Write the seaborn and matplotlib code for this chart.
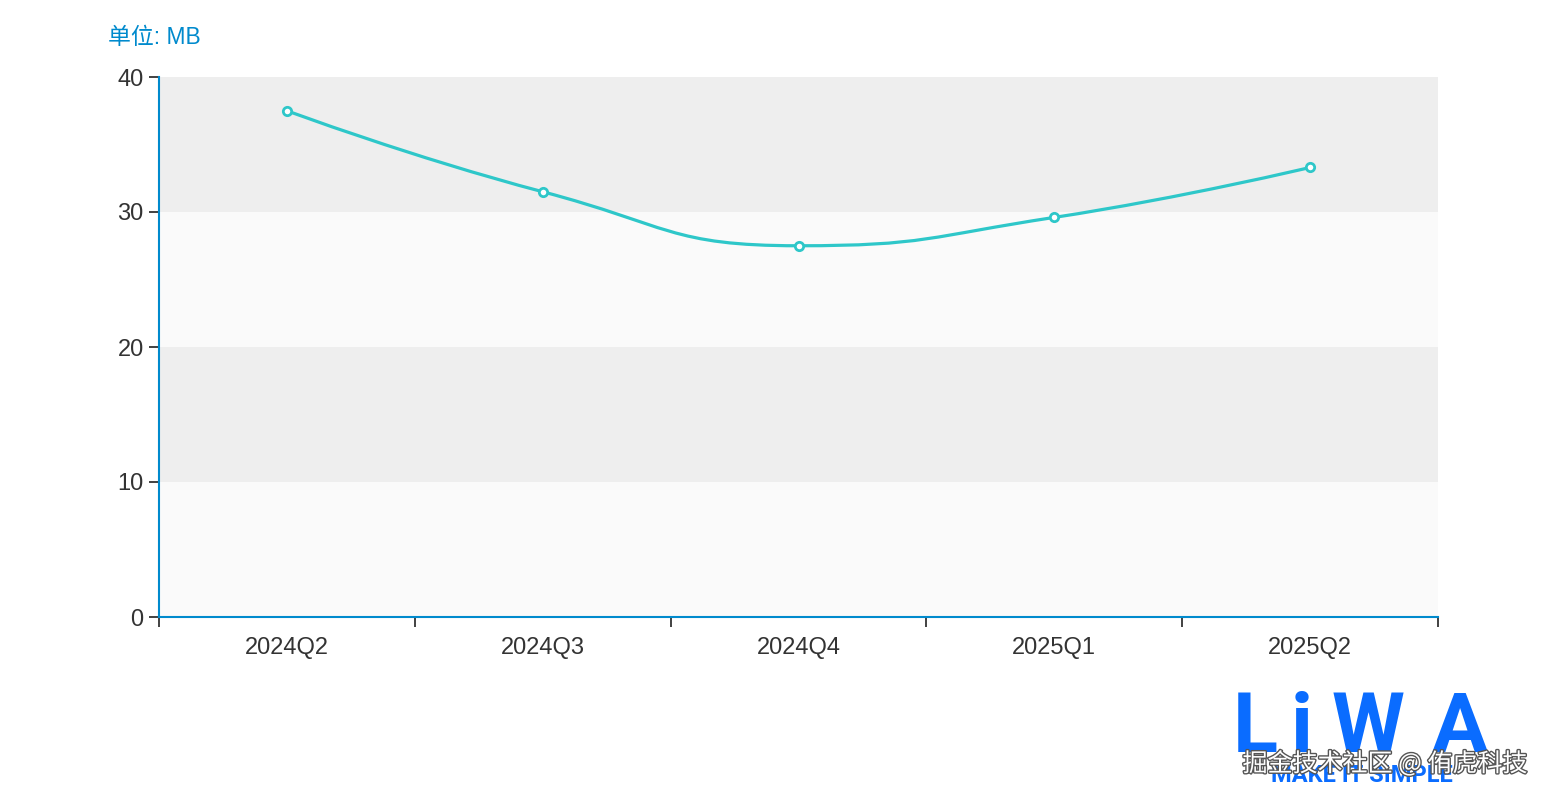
import numpy as np
import pandas as pd
import matplotlib
matplotlib.use('Agg')
import matplotlib.pyplot as plt
import matplotlib.patheffects as pe
from matplotlib.path import Path
from matplotlib.patches import PathPatch
import seaborn as sns

# data
quarters = ['2024Q2', '2024Q3', '2024Q4', '2025Q1', '2025Q2']
size_mb = [37.5, 31.5, 27.5, 29.6, 33.3]
y_ticks = [0, 10, 20, 30, 40]

sns.set_style('white')
plt.rcParams['font.family'] = ['Liberation Sans', 'Noto Sans CJK SC', 'DejaVu Sans']

line_color = '#2ec7c9'
axis_color = '#008acd'
text_color = '#333333'

df = pd.DataFrame({'quarter': quarters, 'size': size_mb})
df['pos'] = np.arange(len(df))

fig = plt.figure(figsize=(15.5, 8), dpi=100)
ax = fig.add_axes([159 / 1550, 183 / 800, 1279 / 1550, 540 / 800])
ax.set_xlim(-0.5, len(quarters) - 0.5)
ax.set_ylim(0, 40)

# alternating split areas
for i in range(len(y_ticks) - 1):
    ax.axhspan(y_ticks[i], y_ticks[i + 1], color='#fafafa' if i % 2 == 0 else '#eeeeee',
               lw=0, zorder=0)


def smooth_path(pts, smooth=0.5):
    # bezier control points the way echarts builds a smooth line (with constraint)
    n = len(pts)
    verts, codes = [pts[0]], [Path.MOVETO]
    cp0 = pts[0].copy()
    for i in range(n - 1):
        px, py = pts[i]
        cx, cy = pts[i + 1]
        qx, qy = pts[i + 2] if i + 2 < n else pts[i + 1]
        dx, dy = qx - px, qy - py
        len_prev = np.hypot(cx - px, cy - py)
        len_next = np.hypot(qx - cx, qy - cy)
        if i + 2 < n and len_next > 0:
            ratio = len_next / (len_next + len_prev)
            ncx = cx + dx * smooth * ratio
            ncy = cy + dy * smooth * ratio
            ncx = min(max(ncx, min(qx, cx)), max(qx, cx))
            ncy = min(max(ncy, min(qy, cy)), max(qy, cy))
            ddx, ddy = ncx - cx, ncy - cy
            c1x = cx - ddx * len_prev / len_next
            c1y = cy - ddy * len_prev / len_next
            c1x = min(max(c1x, min(px, cx)), max(px, cx))
            c1y = min(max(c1y, min(py, cy)), max(py, cy))
            ddx, ddy = cx - c1x, cy - c1y
            next_cp0 = np.array([cx + ddx * len_next / len_prev, cy + ddy * len_next / len_prev])
            cp1 = np.array([c1x, c1y])
        else:
            cp1 = pts[i + 1].copy()
            next_cp0 = pts[i + 1].copy()
        verts += [cp0, cp1, pts[i + 1]]
        codes += [Path.CURVE4] * 3
        cp0 = next_cp0
    return np.array(verts), codes


pts = ax.transData.transform(np.column_stack([df['pos'], df['size']]))
verts, codes = smooth_path(pts)
verts = ax.transData.inverted().transform(verts)
ax.add_patch(PathPatch(Path(verts, codes), fill=False, edgecolor=line_color, lw=2.3,
                       zorder=3, capstyle='round', joinstyle='round'))

sns.scatterplot(data=df, x='pos', y='size', ax=ax, marker='o', s=36,
                facecolor='white', edgecolor=line_color, linewidth=2, zorder=4, legend=False)

# axes styling
for side in ['top', 'right']:
    ax.spines[side].set_visible(False)
for side in ['left', 'bottom']:
    ax.spines[side].set_color(axis_color)
    ax.spines[side].set_linewidth(1.5)

ax.set_yticks(y_ticks)
ax.set_yticklabels([str(t) for t in y_ticks])
ax.set_xticks(np.arange(-0.5, len(quarters), 1.0))
ax.set_xticklabels([])
ax.set_xticks(df['pos'], minor=True)
ax.set_xticklabels(quarters, minor=True)
ax.tick_params(axis='x', which='major', bottom=True, direction='out', length=7, width=1.3,
               color=text_color)
ax.tick_params(axis='x', which='minor', bottom=True, length=0, pad=14.5, labelsize=17,
               labelcolor=text_color)
ax.tick_params(axis='y', left=True, direction='out', length=7, width=1.3, color=text_color,
               pad=4, labelsize=17, labelcolor=text_color)
ax.set_xlabel('')
ax.set_ylabel('')

fig.text(108 / 1550, 1 - 37 / 800, '单位: MB', color=axis_color, fontsize=16.5,
         ha='left', va='center')

# watermark / logo
logo_font = ['Roboto', 'DejaVu Sans']
for letter, lx in zip(['L', 'i', 'W', 'A'], [1255, 1302, 1368, 1460]):
    fig.text(lx / 1550, 1 - 730 / 800, letter, color='#0a6cff', fontsize=60,
             fontweight='bold', ha='center', va='center', family=logo_font)
fig.text(1362 / 1550, 1 - 776 / 800, 'MAKE IT SIMPLE', color='#0a6cff', fontsize=17,
         fontweight='bold', ha='center', va='center', family=logo_font)
fig.text(1385 / 1550, 1 - 764 / 800, '掘金技术社区 @ 侑虎科技', color='white', fontsize=18,
         ha='center', va='center', family=['Noto Sans CJK SC', 'DejaVu Sans'],
         path_effects=[pe.withStroke(linewidth=2, foreground='#555555')])

fig.savefig('out.png', dpi=100)
